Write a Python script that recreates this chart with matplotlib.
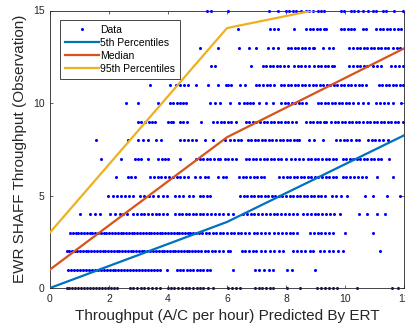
import matplotlib
matplotlib.use("Agg")
import matplotlib.pyplot as plt

plt.rcParams['font.family'] = ['Liberation Sans', 'DejaVu Sans']

# observed throughput levels (y) and the predicted values (x) of each data point on that level
row0 = [0.56, 0.66, 0.76, 0.86, 0.96, 1.06, 1.16, 1.26, 1.36, 1.46, 1.56, 1.66, 1.76, 1.86, 1.96, 2.06, 2.16, 2.26,
        2.71, 2.83, 2.95, 3.07, 3.2, 3.33, 3.46, 3.6, 3.73,
        4.0, 4.1, 4.22, 4.35, 4.48, 4.6, 4.72, 4.85, 4.97, 5.08, 5.2, 5.36, 5.54,
        6.05, 6.18, 6.31, 6.44, 6.95, 7.07, 7.2, 7.32, 7.45, 7.57, 8.02, 8.47,
        9.04, 9.18, 9.32, 9.46, 9.6, 9.72, 10.4, 11.58, 11.8]
row1 = [0.62, 0.72, 0.82, 0.92, 1.02, 1.12, 1.22, 1.32, 1.42, 1.52, 1.62, 1.72, 1.82, 1.92, 2.02, 2.12, 2.22, 2.32,
        2.42, 2.52, 2.62, 2.72, 2.82, 2.92, 3.02, 3.12, 3.22, 3.32, 3.42, 3.52, 3.62, 3.73, 3.96,
        4.29, 4.4, 4.52, 4.63, 4.75, 4.86, 4.97, 5.08, 5.2, 5.31, 5.42, 6.21,
        6.95, 7.1, 7.26, 7.42, 7.57, 8.02, 8.19, 8.98]
row2 = [0.56, 0.65, 0.74, 0.84, 0.93, 1.02, 1.12, 1.21, 1.3, 1.4, 1.5, 1.59, 1.68, 1.78, 1.88, 1.97, 2.06, 2.16,
        2.26, 2.35, 2.44, 2.54, 2.64, 2.73, 2.82, 2.92, 3.02, 3.11, 3.2, 3.3, 3.4, 3.49, 3.58, 3.68, 3.78, 3.87,
        3.96, 4.06, 4.16, 4.25, 4.34, 4.44, 4.54, 4.63, 4.72, 4.82, 4.92, 5.01,
        5.12, 5.24, 5.36, 5.48, 5.6, 5.74, 5.88, 6.02, 6.1,
        6.5, 6.62, 6.75, 6.88, 7.0, 7.15, 7.3, 7.45, 7.6, 7.75, 7.9,
        8.25, 8.38, 8.52, 8.66, 8.8, 8.93, 9.15, 9.3, 9.45, 9.6, 9.75, 9.94, 11.19]
row3 = [0.68, 0.77, 0.87, 0.96, 1.06, 1.15, 1.25, 1.34, 1.44, 1.53, 1.63, 1.72, 1.82, 1.91, 2.01, 2.1, 2.2,
        2.29, 2.39, 2.48, 2.58, 2.67, 2.77, 2.86, 2.96, 3.05, 3.15, 3.24, 3.34, 3.43, 3.53, 3.62, 3.72, 3.81,
        3.91, 4.0, 4.1, 4.19, 4.29, 4.38, 4.48, 4.57, 4.67, 4.76, 4.86, 4.95, 5.05,
        5.16, 5.28, 5.4, 5.52, 5.64, 5.76, 5.88, 6.0, 6.12, 6.24, 6.36, 6.48, 6.62, 6.76, 6.9, 7.03,
        7.16, 7.3, 7.44, 7.58, 7.72, 7.86, 8.0, 8.12, 8.24, 8.36,
        8.81, 8.94, 9.07, 9.2, 9.33, 9.46, 9.6, 10.0, 10.96]
row4 = [1.02, 1.36, 1.52, 1.69, 2.03, 2.2, 2.36, 2.48, 2.6,
        2.82, 2.95, 3.08, 3.2, 3.33, 3.46, 3.58, 3.7, 3.83, 3.96,
        4.24, 4.36, 4.48, 4.6, 4.72, 4.84, 4.96, 5.08, 5.2, 5.33, 5.46, 5.6, 5.74, 5.88, 6.02, 6.2,
        6.54, 6.67, 6.8, 6.93, 7.06, 7.19, 7.32, 7.45, 7.58, 7.71, 7.84, 7.97, 8.1, 8.23, 8.36,
        8.58, 8.71, 8.84, 8.97, 9.1, 9.23, 9.36, 9.5, 9.64, 9.83, 10.46, 10.73, 11.08, 11.36]
row5 = [1.98, 2.12, 2.26, 2.4, 2.55, 2.68, 2.82, 3.05, 3.2, 3.35, 3.5, 3.67, 3.82, 3.96,
        4.24, 4.38, 4.52, 4.7, 4.86, 5.08, 5.2, 5.31, 5.42,
        6.44, 6.56, 6.68, 6.8, 6.92, 7.04, 7.16, 7.28, 7.4, 7.52, 7.64, 7.76, 7.88, 8.0, 8.12, 8.24,
        8.36, 8.48, 8.6, 8.72, 8.84, 8.96, 9.08, 9.2, 9.32,
        9.55, 9.7, 9.88, 10.06, 10.68, 10.96, 11.41, 11.86]
row6 = [2.25, 2.64, 2.76, 2.87, 3.38, 3.52, 3.66, 3.77, 3.9, 4.03, 4.16, 4.29, 4.42, 4.55, 4.68,
        4.9, 5.07, 5.24, 5.36, 5.69, 5.86, 5.98,
        6.42, 6.54, 6.66, 6.78, 6.9, 7.02, 7.14, 7.26,
        7.77, 7.9, 8.02, 8.14, 8.26, 8.38, 8.5, 8.62, 8.74, 8.86, 8.98, 9.1, 9.22, 9.34, 9.46, 9.58, 9.69,
        9.92, 10.05, 10.18, 10.31, 10.44, 10.57, 10.71, 11.1, 11.62]
row7 = [1.74, 2.42, 2.87, 2.98, 3.1, 3.32, 3.66, 3.78, 3.9, 4.0, 4.4,
        4.96, 5.08, 5.2, 5.32, 5.44, 5.56, 5.68, 5.75, 5.92, 6.03, 6.16, 6.3,
        6.64, 6.76, 6.88, 7.0, 7.12, 7.24, 7.36, 7.48, 7.6, 7.72, 7.84, 8.0,
        8.17, 8.3, 8.44, 8.57, 8.74, 8.86, 8.98, 9.1, 9.22, 9.34, 9.46, 9.58, 9.69,
        9.92, 10.04, 10.16, 10.28, 10.4, 10.52, 10.64, 10.76, 10.88, 11.0, 11.12, 11.22, 11.5]
row8 = [1.57, 2.64, 2.98, 3.15, 3.32, 3.6, 3.75, 4.4, 4.54, 4.68, 4.82, 4.96, 5.24, 5.53, 5.92, 6.09,
        6.25, 6.36, 6.47, 6.7, 6.82, 6.94, 7.06, 7.18, 7.3, 7.42, 7.54, 7.66, 7.78, 7.9, 8.02, 8.14,
        8.26, 8.38, 8.45, 8.79, 8.96, 9.24,
        9.69, 9.82, 9.95, 10.08, 10.22, 10.36, 10.49, 10.77, 10.9, 11.03, 11.16, 11.3, 11.45]
row9 = [2.99, 3.1, 3.22, 3.34, 3.46, 3.56, 4.0, 4.1, 4.17, 4.4, 4.52, 4.64, 5.13,
        5.53, 5.65, 5.78, 5.9, 6.03, 6.14, 6.3,
        6.64, 6.76, 6.88, 7.0, 7.12, 7.24, 7.36, 7.48, 7.6, 7.72, 7.84, 7.96, 8.08, 8.2, 8.34,
        8.68, 8.8, 8.92, 9.04, 9.16, 9.28, 9.36,
        9.53, 9.65, 9.77, 9.89, 10.01, 10.13, 10.25, 10.37, 10.49, 10.61, 10.73, 10.85, 10.97,
        11.09, 11.21, 11.33, 11.45, 11.57, 11.69, 11.81, 11.96]
row10 = [2.59, 2.98, 3.67, 4.06, 4.18, 4.3, 4.42, 4.52, 4.62, 5.41, 5.58, 5.75, 6.09,
         6.42, 6.59, 6.68, 6.78, 6.87, 7.1, 7.32, 7.55,
         7.83, 7.95, 8.07, 8.19, 8.31, 8.43, 8.55, 8.68,
         9.07, 9.19, 9.31, 9.43, 9.55, 9.67, 9.79, 9.91, 10.03, 10.15,
         10.26, 10.43, 10.6, 10.77, 11.05, 11.19, 11.33, 11.47, 11.62, 11.9]
row11 = [3.38, 4.06, 4.28, 4.41, 4.55, 4.68, 4.96, 5.36, 5.69, 5.97, 6.03, 6.14, 6.44, 6.61,
         6.98, 7.1, 7.22, 7.34, 7.46, 7.58, 7.82, 7.94, 8.06, 8.18, 8.3, 8.42, 8.54, 8.66,
         8.78, 8.9, 9.02, 9.14, 9.26, 9.38, 9.5, 9.62, 9.74, 9.86, 9.98, 10.1, 10.22, 10.34,
         10.46, 10.58, 10.7, 11.14, 11.26, 11.38, 11.5, 11.62, 11.74, 11.86, 11.96]
row12 = [5.45, 5.58, 6.81, 7.21, 7.33, 7.45, 7.57, 7.69, 7.81, 7.93, 8.06,
         8.28, 8.4, 8.52, 8.64, 8.79, 8.96, 9.08, 9.2, 9.32, 9.44, 9.56, 9.64,
         10.15, 10.27, 10.39, 10.51, 10.63, 10.74, 10.96, 11.1, 11.22, 11.56, 11.7, 11.84, 11.96]
row13 = [5.08, 5.71, 6.42, 6.76, 6.98, 7.38, 7.55, 7.72,
         8.06, 8.18, 8.3, 8.42, 8.54, 8.66, 8.78, 8.9, 8.96, 9.24, 9.47, 9.58,
         10.15, 10.27, 10.39, 10.51, 10.63, 10.75, 10.87, 10.99, 11.11, 11.23, 11.35, 11.47,
         11.62, 11.75, 11.86]
row14 = [6.36, 7.46, 7.6, 7.73, 8.28, 8.68, 8.8, 8.92, 9.04, 9.16, 9.28, 9.36,
         9.86, 9.98, 10.1, 10.2, 10.32, 10.6, 10.72,
         11.05, 11.17, 11.3, 11.42, 11.54, 11.66, 11.78, 11.9]
row15 = [5.33, 5.47, 6.03, 7.43, 7.72, 8.0, 8.11, 8.23, 8.34, 8.51, 8.68, 8.79, 8.9, 9.07, 9.19, 9.3,
         9.86, 9.98, 10.2, 10.32, 10.43, 10.6, 10.77, 10.94, 11.05, 11.28, 11.39, 11.67, 11.96]
rows = [row0, row1, row2, row3, row4, row5, row6, row7, row8, row9,
        row10, row11, row12, row13, row14, row15]

# percentile curves
knots = [0, 6, 12]
p5 = [0.0, 3.57, 8.25]
p50 = [1.0, 8.15, 12.95]
p95 = [3.0, 14.05, 16.0]

xs, ys = [], []
for level, row in enumerate(rows):
    xs += row
    ys += [level] * len(row)

fig = plt.figure(figsize=(4.06, 3.28), dpi=100)
ax = fig.add_axes([50 / 406, 40 / 328, 354 / 406, 277.5 / 328])

ax.plot(xs, ys, '.', color=(0, 0, 1), markersize=2.4, label='Data', clip_on=False, zorder=2)
ax.plot(knots, p5, color='#0072BD', lw=1.6, label='5th Percentiles', zorder=3)
ax.plot(knots, p50, color='#D95319', lw=1.6, label='Median', zorder=3)
ax.plot(knots, p95, color='#EDB120', lw=1.6, label='95th Percentiles', zorder=3)

ax.set_xlim(0, 12)
ax.set_ylim(0, 15)
ax.set_xticks([0, 2, 4, 6, 8, 10, 12])
ax.set_yticks([0, 5, 10, 15])
ax.tick_params(direction='in', top=True, right=True, length=2.5, width=0.5,
               labelsize=7.5, colors='#262626', pad=4)
for s in ax.spines.values():
    s.set_color('#262626')
    s.set_linewidth(0.6)

ax.set_xlabel('Throughput (A/C per hour) Predicted By ERT', fontsize=11, color='#262626', labelpad=4)
ax.set_ylabel('EWR SHAFF Throughput (Observation)', fontsize=11, color='#262626', labelpad=4)

leg = ax.legend(loc='upper left', bbox_to_anchor=(0.028, 0.966), borderaxespad=0,
                fontsize=7.5, numpoints=1, handlelength=3.3, labelspacing=0.3,
                handletextpad=0.1, borderpad=0.45, fancybox=False, framealpha=1,
                markerscale=1.0)
leg.get_frame().set_edgecolor('#262626')
leg.get_frame().set_linewidth(0.6)

fig.savefig('out.png', dpi=100)
